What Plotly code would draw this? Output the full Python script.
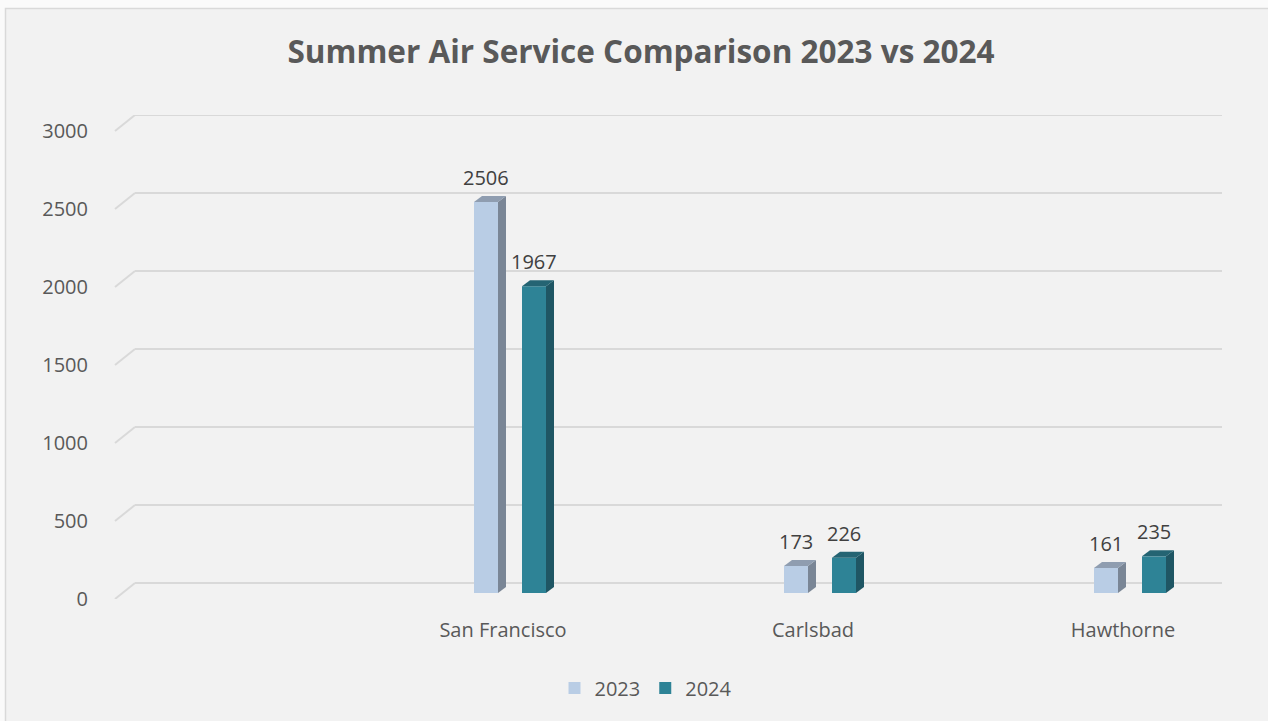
import plotly.graph_objects as go

# ---- data ----
categories = ["San Francisco", "Carlsbad", "Hawthorne"]
series_names = ["2023", "2024"]
values_2023 = [2506, 173, 161]
values_2024 = [1967, 226, 235]
y_ticks = [0, 500, 1000, 1500, 2000, 2500, 3000]

# ---- geometry / style ----
W, H = 1268, 721
L, R, T, B = 115, 46, 115, 122
plot_w = W - L - R
plot_h = H - T - B
px_per_cat = 310.0
x_first = 503.0  # pixel of first category label
x_min = 1 - (x_first - L) / px_per_cat
x_max = x_min + plot_w / px_per_cat
px_per_unit = 468 / 3000.0
span = plot_h / px_per_unit
grid_shift = 16 / px_per_unit     # back plane above front plane
bar_shift = 6 / px_per_unit       # bar base above front edge

bar_w = 24 / px_per_cat
offsets = [-29 / px_per_cat, 19 / px_per_cat]
depth_x = 8 / px_per_cat
depth_y = 6 / px_per_unit

front_cols = ["#b9cde5", "#2e8396"]
side_cols = ["#7a8696", "#1f5664"]
top_cols = ["#8f9db0", "#246473"]

FONT = "Open Sans"
fig = go.Figure()

series = [values_2023, values_2024]
xpos = [i + 1 for i in range(len(categories))]

for s, (name, vals) in enumerate(zip(series_names, series)):
    fig.add_trace(go.Bar(
        x=xpos, y=vals, name=name, width=bar_w, offset=offsets[s],
        marker=dict(color=front_cols[s], line=dict(width=0)),
        yaxis="y3", showlegend=True, hoverinfo="skip",
    ))

for s, vals in enumerate(series):
    for xc, v in zip(xpos, vals):
        xl = xc + offsets[s]
        xr = xl + bar_w
        # side face
        fig.add_trace(go.Scatter(
            x=[xr, xr + depth_x, xr + depth_x, xr, xr],
            y=[0, depth_y, v + depth_y, v, 0],
            fill="toself", fillcolor=side_cols[s], mode="lines",
            line=dict(width=0), yaxis="y3", showlegend=False, hoverinfo="skip"))
        # top face
        fig.add_trace(go.Scatter(
            x=[xl, xr, xr + depth_x, xl + depth_x, xl],
            y=[v, v, v + depth_y, v + depth_y, v],
            fill="toself", fillcolor=top_cols[s], mode="lines",
            line=dict(width=0), yaxis="y3", showlegend=False, hoverinfo="skip"))

annotations = []
for s, vals in enumerate(series):
    for xc, v in zip(xpos, vals):
        annotations.append(dict(
            x=xc + offsets[s] + bar_w / 2, y=v, xref="x", yref="y3",
            text=str(v), showarrow=False, yanchor="bottom", yshift=9,
            font=dict(family=FONT, size=20, color="#404040")))

shapes = []
# chart border
shapes.append(dict(type="rect", xref="paper", yref="paper",
                   x0=(5.5 - L) / plot_w, x1=(W + 20 - L) / plot_w,
                   y0=-(H + 20 - (T + plot_h)) / plot_h, y1=(T + plot_h - 8.5) / plot_h,
                   line=dict(color="#d9d9d9", width=1.5), fillcolor="#f2f2f2", layer="below"))
# gridlines with 3D diagonal stub
stub = 20 / plot_w
for t in y_ticks:
    shapes.append(dict(type="line", xref="paper", yref="y", x0=stub, x1=1,
                       y0=t, y1=t, line=dict(color="#d9d9d9", width=2), layer="below"))
    shapes.append(dict(type="line", xref="paper", yref="y", x0=0, x1=stub,
                       y0=t - grid_shift, y1=t, line=dict(color="#d9d9d9", width=2), layer="below"))

fig.update_layout(
    width=W, height=H,
    margin=dict(l=L, r=R, t=T, b=B),
    paper_bgcolor="#fafafa", plot_bgcolor="rgba(0,0,0,0)",
    title=dict(text="<b>Summer Air Service Comparison 2023 vs 2024</b>",
               x=641 / W, xanchor="center", y=1 - 52 / H, yanchor="middle",
               font=dict(family=FONT, size=31.5, color="#595959")),
    xaxis=dict(range=[x_min, x_max], tickvals=xpos, ticktext=categories,
               showgrid=False, zeroline=False, showline=False,
               ticks="outside", ticklen=13, tickcolor="rgba(0,0,0,0)",
               tickfont=dict(family=FONT, size=20, color="#595959"), fixedrange=True),
    yaxis=dict(range=[-grid_shift, 3000], showgrid=False, zeroline=False,
               showticklabels=False, showline=False, fixedrange=True),
    yaxis2=dict(range=[0, span], overlaying="y", side="left", tickvals=y_ticks,
                showgrid=False, zeroline=False, showline=False,
                ticks="outside", ticklen=22, tickcolor="rgba(0,0,0,0)",
                tickfont=dict(family=FONT, size=20, color="#595959"), fixedrange=True),
    yaxis3=dict(range=[-bar_shift, span - bar_shift], overlaying="y",
                showgrid=False, zeroline=False, showticklabels=False,
                showline=False, fixedrange=True),
    barmode="overlay",
    legend=dict(orientation="h", x=(646 - L) / plot_w, xanchor="center",
                y=-(688 - (T + plot_h)) / plot_h, yanchor="middle",
                font=dict(family=FONT, size=20, color="#595959"),
                bgcolor="rgba(0,0,0,0)", itemwidth=30, tracegroupgap=0),
    annotations=annotations, shapes=shapes, showlegend=True,
)

# yaxis2 needs a trace to render ticks
fig.add_trace(go.Scatter(x=[None], y=[None], yaxis="y2", showlegend=False, hoverinfo="skip"))

fig.write_html("out.html", config={"displayModeBar": False},
               post_script="document.body.style.margin='0';document.body.style.overflow='hidden';")
